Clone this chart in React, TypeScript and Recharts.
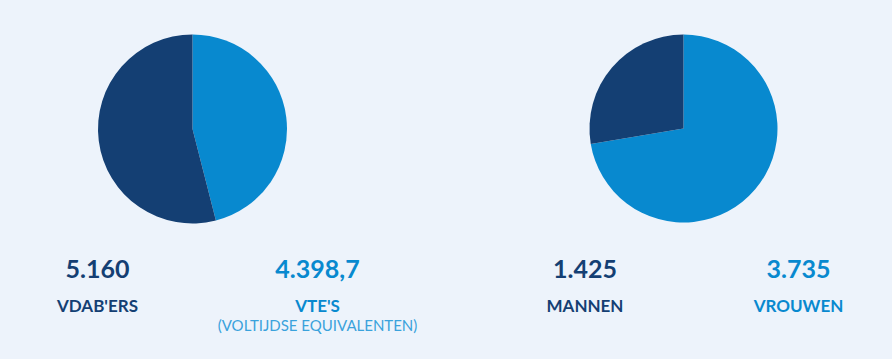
import React from "react";
import { PieChart, Pie, Cell } from "recharts";

const staffLabels = ["VDAB'ERS", "VTE'S"];
const staffValues = [5160, 4398.7];
const staffNote = "(VOLTIJDSE EQUIVALENTEN)";

const genderLabels = ["MANNEN", "VROUWEN"];
const genderValues = [1425, 3735];

const DARK = "#143f73";
const LIGHT = "#0889cf";
const NOTE = "#3aa2dc";
const BG = "#edf3fb";
const FONT = "Lato, 'Open Sans', sans-serif";

// dutch number format: 5.160 / 4.398,7
const fmt = (v: number) => {
  const [int, dec] = String(v).split(".");
  const grouped = int.replace(/\B(?=(\d{3})+(?!\d))/g, ".");
  return dec ? `${grouped},${dec}` : grouped;
};

// light slice first so it runs clockwise from 12 o'clock
const staffPie = [
  { name: staffLabels[1], value: staffValues[1], color: LIGHT },
  { name: staffLabels[0], value: staffValues[0], color: DARK },
];
const genderPie = [
  { name: genderLabels[1], value: genderValues[1], color: LIGHT },
  { name: genderLabels[0], value: genderValues[0], color: DARK },
];

const Stat = ({ x, value, label, color, note }: { x: number; value: number; label: string; color: string; note?: string }) => (
  <>
    <div style={{ position: "absolute", left: x, top: 268, transform: "translate(-50%, -50%)", color, fontSize: 25, fontWeight: 700, lineHeight: 1, whiteSpace: "nowrap" }}>
      {fmt(value)}
    </div>
    <div style={{ position: "absolute", left: x, top: 305, transform: "translate(-50%, -50%)", color, fontSize: 17, fontWeight: 700, lineHeight: 1, whiteSpace: "nowrap" }}>
      {label}
    </div>
    {note && (
      <div style={{ position: "absolute", left: x, top: 325, transform: "translate(-50%, -50%)", color: NOTE, fontSize: 15, lineHeight: 1, whiteSpace: "nowrap" }}>
        {note}
      </div>
    )}
  </>
);

export default function App() {
  return (
    <div style={{ position: "absolute", left: 0, top: 0, width: 892, height: 359, background: BG, fontFamily: FONT, overflow: "hidden" }}>
      <PieChart width={892} height={359} margin={{ top: 0, right: 0, bottom: 0, left: 0 }}>
        <Pie data={staffPie} dataKey="value" cx={192.5} cy={129} outerRadius={94.5} startAngle={90} endAngle={-270} stroke="none" isAnimationActive={false}>
          {staffPie.map((d) => (
            <Cell key={d.name} fill={d.color} />
          ))}
        </Pie>
        <Pie data={genderPie} dataKey="value" cx={683.5} cy={128.5} outerRadius={94} startAngle={90} endAngle={-270} stroke="none" isAnimationActive={false}>
          {genderPie.map((d) => (
            <Cell key={d.name} fill={d.color} />
          ))}
        </Pie>
      </PieChart>
      <Stat x={97.5} value={staffValues[0]} label={staffLabels[0]} color={DARK} />
      <Stat x={317.5} value={staffValues[1]} label={staffLabels[1]} color={LIGHT} note={staffNote} />
      <Stat x={585} value={genderValues[0]} label={genderLabels[0]} color={DARK} />
      <Stat x={798.5} value={genderValues[1]} label={genderLabels[1]} color={LIGHT} />
    </div>
  );
}
